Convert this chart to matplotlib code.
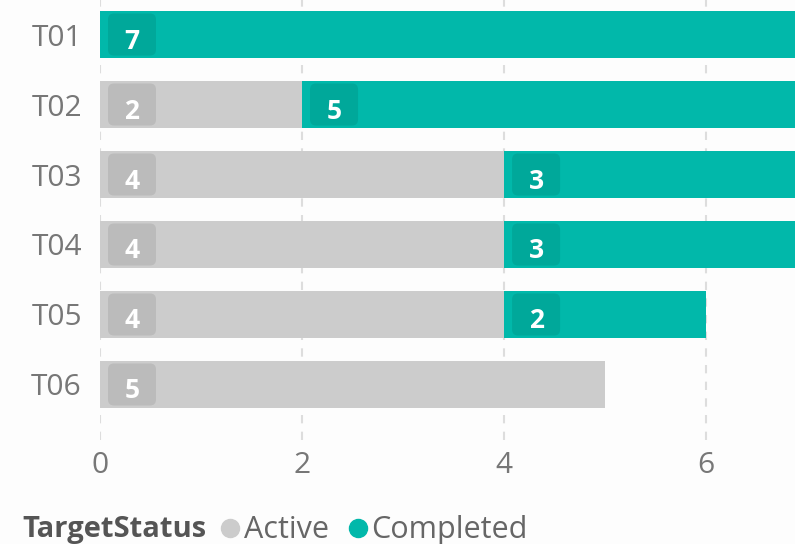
import matplotlib.pyplot as plt
from matplotlib.patches import FancyBboxPatch
from matplotlib.transforms import ScaledTranslation

plt.rcParams['font.family'] = ['Open Sans', 'DejaVu Sans']

targets = ["T01", "T02", "T03", "T04", "T05", "T06"]
active = [0, 2, 4, 4, 4, 5]
completed = [7, 5, 3, 3, 2, 0]

grey = '#CCCCCC'
teal = '#01B8AA'
grey_dark = '#BBBBBB'
teal_dark = '#00A89A'

fig = plt.figure(figsize=(7.95, 5.44), dpi=100)
fig.patch.set_facecolor('#FDFDFD')
W, H = 795, 544
ax = fig.add_axes([100 / W, 104 / H, 695 / W, 440 / H])
ax.set_facecolor('#FDFDFD')

ypos = list(range(len(targets)))
ax.barh(ypos, active, height=0.67, color=grey, zorder=2)
ax.barh(ypos, completed, left=active, height=0.67, color=teal, zorder=2)

ax.set_xlim(0, 6.88)
ax.set_ylim(5.793, -0.493)
ax.set_xticks([0, 2, 4, 6])
ax.set_yticks(ypos)
ax.set_yticklabels(targets)
ax.tick_params(axis='x', length=0, pad=8, labelsize=21.5, labelcolor='#777777')
ax.tick_params(axis='y', length=0, pad=13, labelsize=21.5, labelcolor='#777777')
ax.grid(axis='x', color='#DDDDDD', linestyle=(0, (4, 4)), linewidth=1.5, zorder=1)
ax.grid(axis='y', visible=False)
for s in ax.spines.values():
    s.set_visible(False)


def value_box(x, y, val, face):
    anchor = ScaledTranslation(x, y, ax.transData)
    box = FancyBboxPatch((8, -21), 48, 42, boxstyle="round,pad=0,rounding_size=6",
                         transform=anchor, facecolor=face, edgecolor='none', zorder=3)
    ax.add_patch(box)
    ax.text(32, -14, str(val), transform=anchor, ha='center', va='baseline',
            fontsize=19, fontweight='bold', color='white', zorder=4)


for i in ypos:
    if active[i] > 0:
        value_box(0, i, active[i], grey_dark)
    if completed[i] > 0:
        value_box(active[i], i, completed[i], teal_dark)

# legend row at the bottom
ly = 14 / H
fig.text(22 / W, ly, "TargetStatus", fontsize=21, fontweight='bold', color='#555555',
         ha='left', va='center')
fig.lines.append(plt.Line2D([230 / W], [ly + 2 / H], marker='o', markersize=13,
                            color=grey, linestyle='none', transform=fig.transFigure))
fig.text(244 / W, ly, "Active", fontsize=22, color='#666666', ha='left', va='center')
fig.lines.append(plt.Line2D([358 / W], [ly + 2 / H], marker='o', markersize=13,
                            color=teal, linestyle='none', transform=fig.transFigure))
fig.text(371 / W, ly, "Completed", fontsize=22, color='#666666', ha='left', va='center')

fig.savefig("out.png", dpi=100, facecolor=fig.get_facecolor())
